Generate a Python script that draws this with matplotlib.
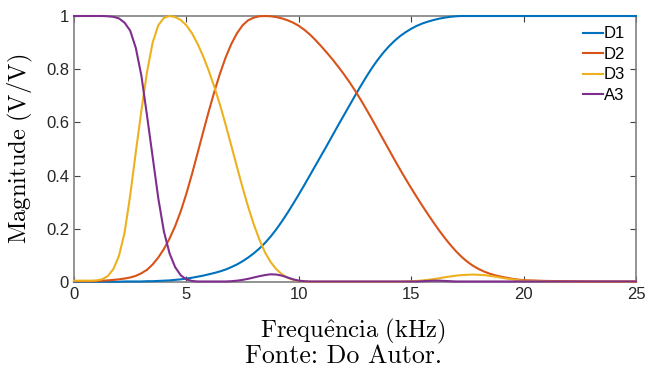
import numpy as np
import matplotlib
matplotlib.use("Agg")
from matplotlib import pyplot as plt

plt.rcParams['mathtext.fontset'] = 'cm'
plt.rcParams['font.family'] = ['Liberation Sans', 'DejaVu Sans']

# frequency grid (kHz)
freq = [i * 0.25 for i in range(81)] + [21, 22, 23, 24, 25]

d1 = [0.001, 0.001, 0.001, 0.001, 0.001, 0.001, 0.001, 0.001,
      0.001, 0.002, 0.002, 0.002, 0.002, 0.003, 0.003, 0.004,
      0.005, 0.006, 0.008, 0.010, 0.013, 0.016, 0.020, 0.024,
      0.029, 0.034, 0.040, 0.047, 0.056, 0.066, 0.078, 0.092,
      0.108, 0.126, 0.147, 0.171, 0.198, 0.228, 0.260, 0.294,
      0.329, 0.365, 0.402, 0.439, 0.476, 0.513, 0.551, 0.589,
      0.626, 0.663, 0.700, 0.736, 0.771, 0.804, 0.834, 0.861,
      0.885, 0.906, 0.924, 0.939, 0.952, 0.963, 0.972, 0.979,
      0.985, 0.990, 0.994, 0.997, 0.999, 1.0, 1.0, 1.0,
      1.0, 1.0, 1.0, 1.0, 1.0, 1.0, 1.0, 1.0,
      1.0, 1.0, 1.0, 1.0, 1.0, 1.0]

d2 = [0.003, 0.003, 0.003, 0.003, 0.004, 0.005, 0.006, 0.008,
      0.010, 0.013, 0.017, 0.023, 0.033, 0.046, 0.066, 0.092,
      0.124, 0.163, 0.210, 0.266, 0.332, 0.406, 0.485, 0.565,
      0.643, 0.717, 0.785, 0.845, 0.895, 0.935, 0.965, 0.984,
      0.994, 0.999, 1.0, 0.999, 0.996, 0.991, 0.984, 0.975,
      0.963, 0.948, 0.930, 0.909, 0.886, 0.862, 0.837, 0.810,
      0.782, 0.752, 0.720, 0.686, 0.650, 0.613, 0.575, 0.537,
      0.499, 0.461, 0.424, 0.388, 0.353, 0.319, 0.286, 0.254,
      0.223, 0.193, 0.165, 0.139, 0.115, 0.094, 0.076, 0.061,
      0.049, 0.039, 0.031, 0.025, 0.020, 0.016, 0.012, 0.009,
      0.007, 0.004, 0.003, 0.002, 0.002, 0.002]

d3 = [0.005, 0.005, 0.005, 0.005, 0.006, 0.010, 0.022, 0.048,
      0.098, 0.185, 0.325, 0.488, 0.645, 0.790, 0.900, 0.965,
      0.993, 1.0, 0.996, 0.985, 0.965, 0.935, 0.895, 0.848,
      0.793, 0.732, 0.665, 0.590, 0.512, 0.433, 0.355, 0.282,
      0.216, 0.159, 0.111, 0.075, 0.048, 0.029, 0.016, 0.008,
      0.004, 0.002, 0.001, 0.001, 0.001, 0.001, 0.001, 0.001,
      0.001, 0.001, 0.001, 0.001, 0.001, 0.001, 0.001, 0.001,
      0.001, 0.001, 0.001, 0.002, 0.003, 0.004, 0.006, 0.008,
      0.011, 0.014, 0.018, 0.021, 0.024, 0.026, 0.027, 0.028,
      0.027, 0.026, 0.023, 0.020, 0.016, 0.013, 0.010, 0.007,
      0.005, 0.002, 0.001, 0.001, 0.001, 0.001]

a3 = [1.0, 1.0, 1.0, 1.0, 1.0, 1.0, 0.999, 0.997,
      0.991, 0.975, 0.945, 0.880, 0.775, 0.625, 0.470, 0.315,
      0.190, 0.108, 0.056, 0.025, 0.010, 0.004, 0.002, 0.002,
      0.002, 0.002, 0.002, 0.002, 0.003, 0.005, 0.008, 0.012,
      0.017, 0.022, 0.026, 0.029, 0.028, 0.024, 0.017, 0.010,
      0.005, 0.003, 0.002, 0.002, 0.002, 0.002, 0.002, 0.002,
      0.002, 0.002, 0.002, 0.002, 0.002, 0.002, 0.002, 0.002,
      0.002, 0.002, 0.002, 0.002, 0.002, 0.002, 0.003, 0.004,
      0.005, 0.005, 0.004, 0.003, 0.002, 0.002, 0.002, 0.002,
      0.002, 0.002, 0.002, 0.002, 0.002, 0.002, 0.002, 0.002,
      0.002, 0.002, 0.002, 0.002, 0.002, 0.002]

labels = ['D1', 'D2', 'D3', 'A3']
colors = ['#0072BD', '#D95319', '#EDB120', '#7E2F8E']

fig = plt.figure(figsize=(6.45, 3.67), dpi=100)
ax = fig.add_axes([0.1147, 0.2316, 0.8713, 0.7248])

for y, lab, c in zip([d1, d2, d3, a3], labels, colors):
    ax.plot(freq, y, color=c, lw=1.5, label=lab, zorder=3, clip_on=False)

ax.set_xlim(0, 25)
ax.set_ylim(0, 1)
ax.set_xticks([0, 5, 10, 15, 20, 25])
ax.set_yticks([0, 0.2, 0.4, 0.6, 0.8, 1])
ax.set_yticklabels(['0', '0.2', '0.4', '0.6', '0.8', '1'])
ax.tick_params(direction='in', length=4, width=0.8, colors='#404040',
               labelcolor='#262626', labelsize=12, top=True, right=True)
for s in ax.spines.values():
    s.set_color('#808080')
    s.set_linewidth(1.2)

ax.set_xlabel(r'$\mathrm{Frequ\hat{e}ncia\ (kHz)}$', fontsize=17.7)
ax.xaxis.set_label_coords(0.497, -0.132)
ax.set_ylabel(r'$\mathrm{Magnitude\ (V/V)}$', fontsize=17.7)
ax.yaxis.set_label_coords(-0.070, 0.5)

fig.text(0.5326, 0.010, 'Fonte: Do Autor.', fontsize=18.6,
         family='cmr10', ha='center', va='baseline')

leg = ax.legend(loc='upper right', frameon=False, fontsize=12,
                handlelength=1.23, handletextpad=0.05, labelspacing=0.33,
                borderaxespad=0.0, bbox_to_anchor=(0.993, 0.986))

fig.savefig('out.png', dpi=100)
